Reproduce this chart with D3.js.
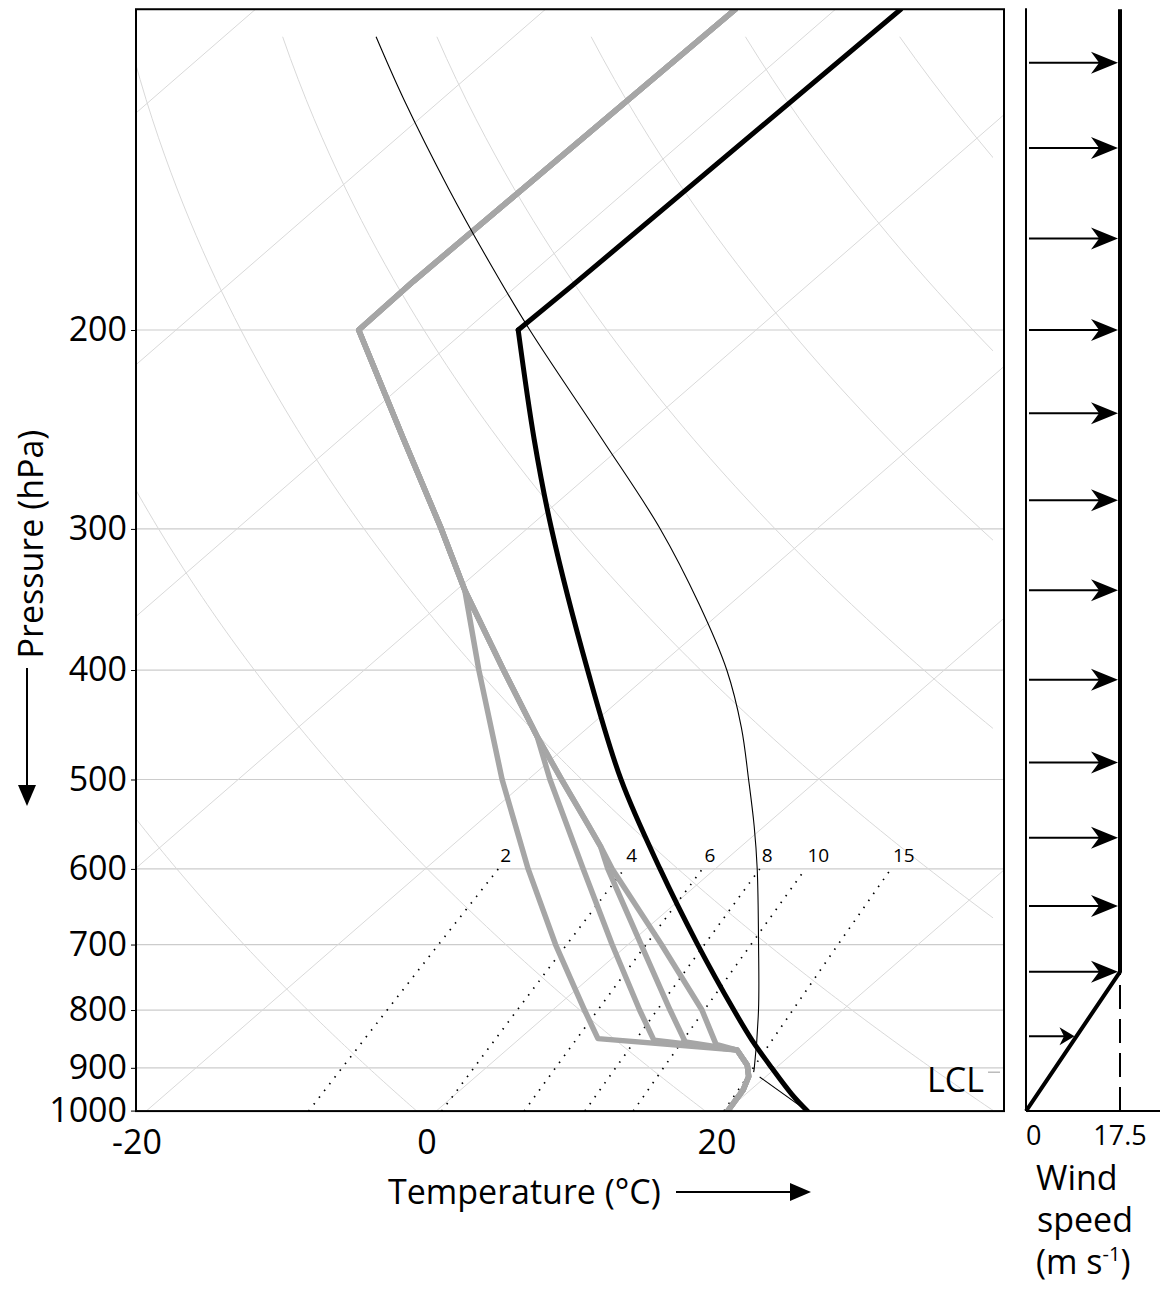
<!DOCTYPE html>
<html>
<head>
<meta charset="utf-8">
<script src="https://cdn.jsdelivr.net/npm/d3@7"></script>
<style>
  body { margin: 0; background: #fff; }
  text { font-family: "Open Sans", sans-serif; fill: #000; }
</style>
</head>
<body>
<div id="chart"></div>
<script>
"use strict";

/* global d3 */

// axes and background grid
let pressureTicks = [1000, 900, 800, 700, 600, 500, 400, 300, 200];
let isobars = [900, 800, 700, 600, 500, 400, 300, 200];
let tempTicks = [-20, 0, 20];
let isotherms = [-120, -100, -80, -60, -40, -20, 0, 20, 40];
let dryAdiabats = [-20, 0, 20, 40, 60, 80, 100, 120, 140]; // potential temperature, deg C
let mixingRatios = [2, 4, 6, 8, 10, 15]; // g/kg

let pSurface = 983;
let pTop = 104;
let pLCL = 908;

// environmental temperature (thick black)
let envP = [983, 950, 900, 850, 800, 700, 600, 500, 400, 300, 250, 200];
let envT = [25.6, 23.2, 19.7, 16.1, 12.5, 4.8, -3.8, -13.6, -24.6, -38.3, -46.6, -56.4];
let stratP = [200, 183, 104];
let stratT = [-56.4, -56.2, -55.5];

// lifted parcel (thin black)
let parcelP = [908, 900, 800, 700, 600, 550, 500, 450, 400, 350, 300, 250, 200, 175, 150, 125, 110];
let parcelT = [18.8, 18.5, 14.2, 9.0, 2.9, -0.7, -4.8, -9.4, -15.0, -22.1, -30.8, -41.9, -55.6, -63.5, -72.4, -82.6, -89.5];
let dryParcelP = [983, 917];
let dryParcelT = [25.6, 19.6];

// dew point profiles (grey)
let dew1P = [983, 942, 916, 895, 868, 848, 800, 700, 600, 500, 400, 340, 300, 250, 200, 181, 104];
let dew1T = [20.1, 19.5, 18.8, 17.8, 15.9, 5.4, 2.2, -5.0, -12.9, -21.8, -32.1, -39.4, -45.9, -55.6, -67.4, -67.5, -66.9];
let dew2P = [983, 942, 916, 895, 868, 851, 800, 700, 600, 500, 458, 400, 340, 300, 250, 200, 181, 104];
let dew2T = [20.1, 19.5, 18.8, 17.8, 15.9, 9.4, 6.0, -1.1, -9.1, -18.5, -22.8, -30.4, -39.4, -45.9, -55.6, -67.4, -67.5, -66.9];
let dew3P = [983, 942, 916, 895, 868, 854, 800, 700, 600, 573, 550, 500, 458, 400, 340, 300, 250, 200, 181, 104];
let dew3T = [20.1, 19.5, 18.8, 17.8, 15.9, 11.7, 8.1, 0.9, -7.4, -9.7, -12.1, -17.7, -22.8, -30.4, -39.4, -45.9, -55.6, -67.4, -67.5, -66.9];
let dew4P = [983, 942, 916, 895, 868, 858, 800, 700, 600, 573, 550, 500, 458, 400, 340, 300, 250, 200, 181, 104];
let dew4T = [20.1, 19.5, 18.8, 17.8, 15.9, 14.0, 10.3, 2.3, -7.1, -9.7, -12.1, -17.7, -22.8, -30.4, -39.4, -45.9, -55.6, -67.4, -67.5, -66.9];

// wind profile (m/s)
let windP = [983, 740, 104];
let windS = [0, 17.5, 17.5];
let arrowP = [844, 740, 647, 563, 483, 408, 340, 283, 237, 200, 166, 138, 116];
let arrowS = [9.4, 17.5, 17.5, 17.5, 17.5, 17.5, 17.5, 17.5, 17.5, 17.5, 17.5, 17.5, 17.5];
let windTicks = [0, 17.5];

let width = 1160;
let height = 1289;
let plotLeft = 136;
let plotRight = 1004;
let skew = 1.152;

let y = d3.scaleLog().domain([1000, 100]).range([1119.5, -10]);
let x = d3.scaleLinear().domain([-20, 40]).range([136.5, 1006.5]);
let px = (t, p) => x(t) + skew * (y(1000) - y(p));
let plotTop = y(pTop);
let plotBottom = y(pSurface);

let zip = (ps, ts) => ps.map((p, i) => ({ p: p, t: ts[i] }));

let skewLine = d3.line()
  .x(d => px(d.t, d.p))
  .y(d => y(d.p));
let skewCurve = d3.line()
  .x(d => px(d.t, d.p))
  .y(d => y(d.p))
  .curve(d3.curveCatmullRom.alpha(0.5));

let svg = d3.select('#chart')
  .append('svg')
  .attr('width', width)
  .attr('height', height);

let defs = svg.append('defs');
defs.append('clipPath').attr('id', 'plot-clip')
  .append('rect')
  .attr('x', plotLeft).attr('y', plotTop)
  .attr('width', plotRight - plotLeft).attr('height', plotBottom - plotTop);
defs.append('clipPath').attr('id', 'adiabat-clip')
  .append('rect')
  .attr('x', plotLeft).attr('y', plotTop)
  .attr('width', 993 - plotLeft).attr('height', plotBottom - plotTop);

let grid = svg.append('g').attr('clip-path', 'url(#plot-clip)');

// isobars
grid.selectAll('.isobar')
  .data(isobars)
  .enter().append('line')
  .attr('x1', plotLeft).attr('x2', plotRight)
  .attr('y1', d => y(d)).attr('y2', d => y(d))
  .attr('stroke', '#cccccc')
  .attr('stroke-width', 1.2);

// skewed isotherms
grid.selectAll('.isotherm')
  .data(isotherms)
  .enter().append('path')
  .attr('d', t => skewLine(zip([1000, pTop], [t, t])))
  .attr('fill', 'none')
  .attr('stroke', '#d9d9d9')
  .attr('stroke-width', 1);

// dry adiabats
let adiabatLevels = d3.range(110, 1001, 5);
svg.append('g').attr('clip-path', 'url(#adiabat-clip)')
  .selectAll('path')
  .data(dryAdiabats)
  .enter().append('path')
  .attr('d', th => skewLine(adiabatLevels.map(p => ({
    p: p,
    t: (th + 273.15) * Math.pow(p / 1000, 0.286) - 273.15
  }))))
  .attr('fill', 'none')
  .attr('stroke', '#d9d9d9')
  .attr('stroke-width', 1);

// saturation mixing ratio lines
let dewOf = (w, p) => {
  let e = (w / 1000) * p / (0.622 + w / 1000);
  let l = Math.log(e / 6.112);
  return 243.5 * l / (17.67 - l);
};
let mixLevels = [pSurface].concat(d3.range(980, 599, -5));
let mix = svg.append('g').attr('clip-path', 'url(#plot-clip)');
mix.selectAll('path')
  .data(mixingRatios)
  .enter().append('path')
  .attr('d', w => skewLine(mixLevels.map(p => ({ p: p, t: dewOf(w, p) }))))
  .attr('fill', 'none')
  .attr('stroke', '#000')
  .attr('stroke-width', 1.7)
  .attr('stroke-dasharray', '1.5,7');
svg.append('g').selectAll('text')
  .data(mixingRatios)
  .enter().append('text')
  .attr('x', w => px(dewOf(w, 600), 600) + 2)
  .attr('y', y(600) - 7)
  .attr('font-size', 19)
  .text(w => w);

// profiles
let prof = svg.append('g').attr('clip-path', 'url(#plot-clip)');
[[dew1P, dew1T], [dew2P, dew2T], [dew3P, dew3T], [dew4P, dew4T]].forEach(s => {
  prof.append('path')
    .attr('d', skewLine(zip(s[0], s[1])))
    .attr('fill', 'none')
    .attr('stroke', '#a6a6a6')
    .attr('stroke-width', 5.5)
    .attr('stroke-linejoin', 'round')
    .attr('stroke-linecap', 'round');
});

prof.append('path')
  .attr('d', skewCurve(zip(parcelP, parcelT)))
  .attr('fill', 'none')
  .attr('stroke', '#000')
  .attr('stroke-width', 1.1);
prof.append('path')
  .attr('d', skewLine(zip(dryParcelP, dryParcelT)))
  .attr('fill', 'none')
  .attr('stroke', '#000')
  .attr('stroke-width', 1.1);

prof.append('path')
  .attr('d', skewCurve(zip(envP, envT)))
  .attr('fill', 'none')
  .attr('stroke', '#000')
  .attr('stroke-width', 5)
  .attr('stroke-linecap', 'round');
prof.append('path')
  .attr('d', skewLine(zip(stratP, stratT)))
  .attr('fill', 'none')
  .attr('stroke', '#000')
  .attr('stroke-width', 5)
  .attr('stroke-linejoin', 'round')
  .attr('stroke-linecap', 'round');

// LCL marker
svg.append('line')
  .attr('x1', plotRight - 16).attr('x2', plotRight - 4)
  .attr('y1', y(pLCL)).attr('y2', y(pLCL))
  .attr('stroke', '#999')
  .attr('stroke-width', 1);
svg.append('text')
  .attr('x', 984).attr('y', y(pLCL) + 20)
  .attr('text-anchor', 'end')
  .attr('font-size', 34)
  .text('LCL');

// frame
svg.append('rect')
  .attr('x', plotLeft).attr('y', plotTop)
  .attr('width', plotRight - plotLeft).attr('height', plotBottom - plotTop)
  .attr('fill', 'none')
  .attr('stroke', '#000')
  .attr('stroke-width', 2);

// pressure axis
let yAxis = svg.append('g')
  .attr('transform', 'translate(' + plotLeft + ',0)')
  .call(d3.axisLeft(y).tickValues(pressureTicks).tickSize(5).tickPadding(4).tickFormat(d => String(d)));
yAxis.select('.domain').remove();
yAxis.selectAll('text').attr('font-size', 34).style('font-family', '"Open Sans", sans-serif');
yAxis.selectAll('.tick').filter(d => d === 1000)
  .attr('transform', 'translate(0,' + plotBottom + ')');

// temperature axis
let xAxis = svg.append('g')
  .attr('transform', 'translate(0,' + plotBottom + ')')
  .call(d3.axisBottom(x).tickValues(tempTicks).tickSize(0).tickPadding(19).tickFormat(d => String(d)));
xAxis.select('.domain').remove();
xAxis.selectAll('text').attr('font-size', 34).style('font-family', '"Open Sans", sans-serif');

// axis titles with arrows
svg.append('text')
  .attr('transform', 'translate(43,544) rotate(-90)')
  .attr('text-anchor', 'middle')
  .attr('font-size', 34)
  .text('Pressure (hPa)');
svg.append('line')
  .attr('x1', 27).attr('x2', 27).attr('y1', 668).attr('y2', 792)
  .attr('stroke', '#000').attr('stroke-width', 2);
svg.append('path')
  .attr('d', 'M27,806 L18,785 L36,785 Z')
  .attr('fill', '#000');

svg.append('text')
  .attr('x', 388).attr('y', 1204)
  .attr('font-size', 34)
  .text('Temperature (°C)');
svg.append('line')
  .attr('x1', 676).attr('x2', 796).attr('y1', 1192).attr('y2', 1192)
  .attr('stroke', '#000').attr('stroke-width', 2);
svg.append('path')
  .attr('d', 'M811,1192 L790,1183 L790,1201 Z')
  .attr('fill', '#000');

// wind panel
let w = d3.scaleLinear().domain([0, 17.5]).range([1026, 1120]);
let windG = svg.append('g');

windG.append('line')
  .attr('x1', w(0)).attr('x2', w(0))
  .attr('y1', plotTop - 1).attr('y2', plotBottom)
  .attr('stroke', '#000').attr('stroke-width', 2);
windG.append('line')
  .attr('x1', w(0)).attr('x2', width)
  .attr('y1', plotBottom).attr('y2', plotBottom)
  .attr('stroke', '#000').attr('stroke-width', 2);
windG.append('line')
  .attr('x1', w(17.5)).attr('x2', w(17.5))
  .attr('y1', plotBottom).attr('y2', y(windP[1]))
  .attr('stroke', '#000').attr('stroke-width', 2)
  .attr('stroke-dasharray', '24,10');

windG.append('path')
  .attr('d', d3.line().x(d => w(d.t)).y(d => y(d.p))(zip(windP, windS)))
  .attr('fill', 'none')
  .attr('stroke', '#000')
  .attr('stroke-width', 4)
  .attr('stroke-linejoin', 'round');

let arrows = windG.selectAll('.arrow')
  .data(zip(arrowP, arrowS))
  .enter().append('g');
arrows.append('line')
  .attr('x1', w(0) + 3)
  .attr('x2', d => w(d.t) - 12)
  .attr('y1', d => y(d.p)).attr('y2', d => y(d.p))
  .attr('stroke', '#000').attr('stroke-width', 2);
arrows.append('path')
  .attr('d', d => {
    let tip = w(d.t) - 2;
    let yy = y(d.p);
    let len = d.t < 17 ? 15 : 27;
    let half = d.t < 17 ? 9 : 11;
    return 'M' + tip + ',' + yy +
      ' L' + (tip - len) + ',' + (yy - half) +
      ' L' + (tip - len * 0.7) + ',' + yy +
      ' L' + (tip - len) + ',' + (yy + half) + ' Z';
  })
  .attr('fill', '#000');

windG.selectAll('.wtick')
  .data(windTicks)
  .enter().append('text')
  .attr('x', d => w(d))
  .attr('y', 1145)
  .attr('text-anchor', d => d === 0 ? 'start' : 'middle')
  .attr('font-size', 27)
  .text(d => d);

windG.append('text').attr('x', 1036).attr('y', 1190).attr('font-size', 34).text('Wind');
windG.append('text').attr('x', 1037).attr('y', 1232).attr('font-size', 34).text('speed');
let unit = windG.append('text').attr('x', 1036).attr('y', 1274).attr('font-size', 34);
unit.append('tspan').text('(m s');
unit.append('tspan').attr('font-size', 20).attr('dy', -13).text('-1');
unit.append('tspan').attr('dy', 13).text(')');
</script>
</body>
</html>
